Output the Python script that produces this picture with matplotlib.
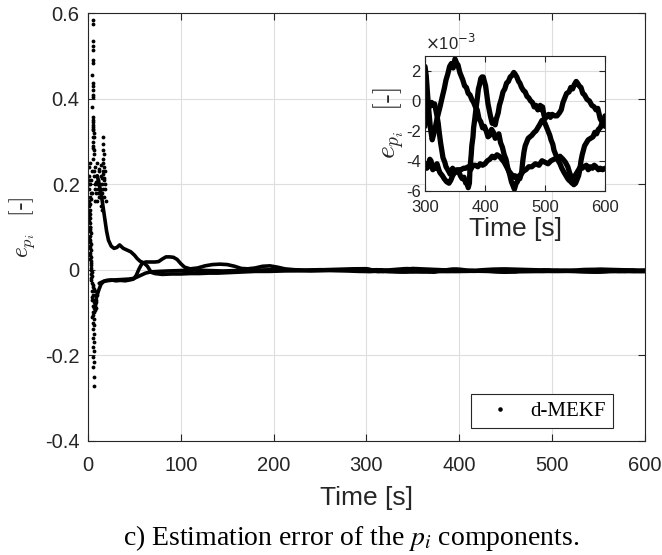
import numpy as np
import matplotlib
matplotlib.use('Agg')
import matplotlib.pyplot as plt

plt.rcParams['axes.unicode_minus'] = False
plt.rcParams['font.family'] = ['Liberation Sans', 'DejaVu Sans']

# ---- main plot: three error components (value in [-]) ----
a_t = [10, 12, 14, 16, 18, 20, 22, 25, 28, 31, 34, 38, 42, 46, 50, 53, 56, 60,
       64, 68, 72, 80, 90, 100, 110, 120, 130, 140, 150, 160, 170, 180, 195, 210,
       225, 240, 255, 270, 285]
a_v = [0.22, 0.2, 0.18, 0.15, 0.12, 0.09, 0.069, 0.055, 0.05, 0.052, 0.058,
       0.05, 0.046, 0.042, 0.034, 0.026, 0.02, 0.016, 0.008, -0.006, -0.009, -0.011,
       -0.01, -0.01, -0.009, -0.009, -0.008, -0.008, -0.007, -0.006, -0.005, -0.004,
       -0.004, -0.003, -0.002, -0.001, 0.0, 0.001, 0.002]

b_t = [10, 12, 14, 17, 20, 25, 30, 35, 40, 45, 49, 52, 55, 58, 62, 67, 72, 76, 80,
       84, 88, 92, 96, 100, 104, 110, 118, 126, 134, 142, 150, 158, 165, 172, 180,
       188, 196, 204, 212, 222, 235, 250, 265, 280, 292]
b_v = [-0.058, -0.045, -0.034, -0.027, -0.025, -0.024, -0.026, -0.025, -0.026,
       -0.024, -0.022, -0.013, 0.002, 0.014, 0.018, 0.018, 0.018, 0.019, 0.025,
       0.03, 0.03, 0.029, 0.024, 0.014, 0.006, 0.002, 0.004, 0.009, 0.012, 0.013,
       0.012, 0.008, 0.003, 0.002, 0.004, 0.008, 0.009, 0.006, 0.002, 0.0, -0.001,
       0.0, -0.001, -0.001, -0.0015]

c_t = [12, 16, 20, 28, 36, 44, 50, 56, 62, 68, 76, 86, 100, 115, 130, 145, 160,
       180, 200, 220, 240, 260, 280, 292]
c_v = [-0.032, -0.028, -0.026, -0.024, -0.023, -0.022, -0.02, -0.014, -0.008,
       -0.005, -0.004, -0.003, -0.002, -0.001, -0.002, -0.003, -0.002, -0.001,
       0.0, -0.002, -0.003, -0.002, -0.003, -0.004]

# transient samples during the first seconds
dots_t = [5.0, 5.2, 5.0, 5.3, 5.1, 5.5, 5.3, 4.8, 5.0, 5.4, 5.2, 5.6, 5.0, 4.6, 5.2,
          5.6, 5.3, 5.8, 5.0, 6.0, 5.5, 6.4, 5.8, 6.2, 6.0, 5.6, 16.5, 16.5, 16.0,
          16.8, 16.3, 16.6, 17.0, 4.9, 5.4, 5.1, 5.7, 16.2, 16.9,
          1.0, 2.0, 1.5, 3.0, 2.5, 1.0, 4.0, 3.5, 2.0, 8.0, 9.0, 10.0, 11.0, 12.0,
          9.5, 13.0, 14.0, 15.0, 16.0, 17.0, 18.0, 12.5, 10.5, 7.0, 6.0, 17.5, 11.5,
          8.5, 14.5, 13.5, 3.0, 2.2, 1.2, 0.8, 4.5, 7.5, 9.0, 11.0, 13.0, 15.5,
          18.5, 10.0, 12.0, 14.0, 16.5, 8.0, 6.5, 19.0, 17.8, 15.0,
          1.5, 2.0, 1.8, 2.5, 2.2, 2.8, 2.5, 3.0, 2.8, 3.2, 3.5, 1.6, 2.1, 2.4, 2.6,
          3.0, 3.1, 3.3, 1.2, 1.9, 2.3, 2.7, 3.6, 1.4, 2.0, 2.9, 1.1, 1.7, 2.6, 1.3,
          2.2, 3.4, 1.5, 2.0, 3.8, 4.2,
          4.5, 5.0, 4.0, 5.5, 4.8, 6.0, 5.2, 6.5, 5.8, 4.6, 6.2, 5.4, 6.8, 5.0, 6.0,
          5.6, 6.6, 5.2, 6.2, 5.0, 6.0, 5.5, 6.0, 6.2, 7.0, 7.5, 4.4, 6.9, 7.8, 8.5,
          9.0, 8.0, 9.5, 7.2, 6.4, 8.2, 7.6, 5.7, 4.9, 6.1, 7.4, 8.8]
dots_v = [0.585, 0.575, 0.535, 0.525, 0.515, 0.49, 0.483, 0.456, 0.437, 0.43, 0.42,
          0.41, 0.404, 0.38, 0.357, 0.35, 0.34, 0.335, 0.327, 0.32, 0.31, 0.31,
          0.29, 0.28, 0.27, 0.26, 0.31, 0.295, 0.28, 0.27, 0.26, 0.25, 0.24,
          0.345, 0.33, 0.3, 0.285,  0.225, 0.215,
          0.24, 0.25, 0.22, 0.21, 0.2, 0.19, 0.23, 0.18, 0.17, 0.24, 0.22, 0.25,
          0.21, 0.23, 0.2, 0.19, 0.22, 0.2, 0.23, 0.21, 0.19, 0.17, 0.18, 0.2,
          0.22, 0.17, 0.235, 0.205, 0.215, 0.245, 0.165, 0.155, 0.2, 0.21, 0.18,
          0.19, 0.18, 0.19, 0.2, 0.18, 0.2, 0.16, 0.17, 0.15, 0.19, 0.16, 0.23,
          0.16, 0.23, 0.14,
          0.15, 0.13, 0.11, 0.1, 0.08, 0.06, 0.05, 0.03, 0.01, 0.0, -0.02, 0.14,
          0.12, 0.09, 0.07, 0.045, 0.02, -0.01, 0.16, 0.1, 0.04, 0.085, -0.025,
          0.125, 0.065, 0.005, 0.135, 0.095, 0.035, 0.115, 0.055, 0.015, 0.075,
          0.025, -0.005, -0.015,
          -0.03, -0.04, -0.05, -0.06, -0.07, -0.075, -0.085, -0.09, -0.1, -0.11,
          -0.115, -0.125, -0.13, -0.14, -0.15, -0.16, -0.17, -0.18, -0.19, -0.205,
          -0.215, -0.228, -0.252, -0.273, -0.08, -0.095, -0.065, -0.07, -0.06,
          -0.075, -0.065, -0.05, -0.06, -0.085, -0.1, -0.09, -0.08, -0.105,
          -0.035, -0.045, -0.07, -0.07]

# ---- inset: same components, 300..600 s, values in 1e-3 [-] ----
ia_t = [300, 302, 304, 306, 309, 312, 316, 320, 325, 329, 332, 335, 338, 341, 344,
        347, 350, 353, 355, 358, 360, 363, 366, 369, 372, 375, 378, 381, 384, 387,
        390, 393, 396, 399, 402, 405, 408, 411, 414, 417, 420, 423, 426, 429, 432,
        435, 438, 441, 444, 447, 449, 452, 454, 457, 460, 464, 468, 473, 478, 484,
        490, 495, 500, 505, 510, 515, 520, 525, 530, 534, 538, 541, 543, 546, 548,
        551, 553, 556, 558, 560, 562, 564, 566, 569, 572, 576, 580, 583, 586, 589,
        592, 595, 597, 600]
ia_v = [2.3, 1.7, 0.6, -0.5, -1.8, -2.6, -2.0, -1.2, -0.4, 0.3, 0.8, 1.4, 1.8, 2.3,
        2.5, 2.2, 2.8, 2.5, 2.4, 1.9, 1.7, 1.4, 1.0, 0.9, 0.5, 0.4, 0.1, -0.1, -0.4,
        -0.6, -1.2, -1.4, -1.8, -1.7, -2.0, -2.4, -2.3, -1.9, -2.1, -2.5, -2.4, -2.2,
        -2.8, -3.1, -3.6, -3.9, -4.5, -4.9, -5.4, -5.7, -5.9, -5.5, -5.4, -5.0,
        -4.9, -4.7, -4.6, -4.4, -4.4, -4.2, -4.3, -4.0, -4.1, -4.2, -4.0, -3.9,
        -3.8, -3.7, -3.9, -4.1, -4.4, -4.8, -5.0, -5.4, -5.6, -5.5, -5.3, -5.0,
        -4.6, -4.0, -3.6, -3.3, -3.0, -2.8, -2.6, -2.5, -2.4, -2.1, -2.2, -1.9,
        -1.8, -1.5, -1.4, -1.0]

ib_t = [300, 302, 304, 306, 308, 311, 313, 316, 318, 320, 322, 324, 326, 328, 330,
        333, 335, 338, 342, 346, 350, 353, 356, 359, 362, 365, 368, 370, 372, 374,
        375, 377, 378, 380, 381, 383, 385, 387, 389, 391, 393, 395, 397, 399, 401,
        403, 405, 407, 409, 412, 414, 417, 419, 422, 424, 427, 430, 433, 436, 439,
        442, 445, 448, 450, 453, 456, 458, 461, 464, 467, 470, 473, 476, 479, 482,
        485, 488, 490, 492, 494, 496, 498, 500, 503, 506, 509, 512, 516, 520, 524,
        527, 530, 533, 536, 540, 543, 546, 549, 552, 554, 557, 560, 563, 566, 570,
        574, 578, 582, 585, 588, 592, 595, 597, 600]
ib_v = [-1.7, -1.2, -0.8, -0.5, -0.3, -0.1, -0.3, -0.2, -0.6, -1.0, -1.5, -2.2,
        -2.8, -3.3, -3.8, -4.1, -4.4, -4.6, -4.9, -4.5, -4.8, -4.6, -4.7, -5.0,
        -5.2, -5.1, -5.5, -5.4, -5.8, -5.5, -4.5, -3.6, -3.0, -2.4, -1.8, -1.2,
        -0.5, 0.1, 0.8, 1.1, 1.5, 1.6, 1.6, 1.3, 1.0, 0.4, -0.2, -0.6, -1.0, -1.5,
        -1.3, -1.6, -1.2, -0.8, -0.3, 0.1, 0.6, 0.8, 1.2, 1.3, 1.6, 1.7, 1.9, 1.8,
        1.6, 1.3, 1.2, 0.9, 0.7, 0.6, 0.3, 0.2, 0.0, -0.1, -0.4, -0.3, -0.6, -0.5,
        -0.3, -0.6, -0.4, -0.9, -1.2, -1.0, -0.9, -1.1, -0.9, -1.0, -1.0, -0.8,
        -0.6, -0.1, 0.2, 0.5, 0.6, 0.9, 0.8, 1.1, 1.3, 1.2, 1.0, 0.9, 0.5, 0.4,
        0.1, 0.0, -0.3, -0.4, -0.6, -0.5, -1.2, -1.4, -1.6, -1.7]

ic_t = [300, 303, 305, 308, 310, 313, 315, 318, 320, 323, 325, 329, 332, 336, 340,
        343, 346, 349, 352, 356, 360, 364, 368, 372, 376, 380, 384, 388, 392, 396,
        400, 404, 408, 412, 416, 420, 424, 428, 432, 436, 440, 444, 447, 450, 453,
        456, 458, 461, 463, 465, 467, 470, 472, 475, 478, 482, 485, 488, 491, 495,
        498, 500, 503, 505, 508, 510, 513, 515, 518, 522, 525, 528, 532, 535, 538,
        540, 543, 545, 548, 550, 553, 556, 559, 562, 565, 569, 572, 575, 579, 582,
        585, 589, 592, 596, 600]
ic_v = [-4.2, -4.5, -4.4, -3.9, -4.0, -4.6, -4.3, -4.5, -4.2, -4.6, -4.8, -5.0,
        -5.2, -5.4, -5.5, -5.3, -5.0, -4.8, -4.7, -4.6, -4.6, -4.5, -4.5, -4.4,
        -4.6, -4.3, -4.3, -4.4, -4.2, -4.3, -4.2, -4.0, -3.9, -3.7, -3.8, -3.6,
        -3.7, -3.9, -4.1, -4.4, -4.7, -4.9, -5.1, -5.0, -5.2, -5.1, -5.2, -4.8,
        -4.0, -3.4, -3.0, -2.7, -2.5, -2.4, -2.3, -2.1, -2.0, -1.8, -1.6, -1.3,
        -1.4, -1.5, -1.8, -2.0, -2.3, -2.6, -2.9, -3.3, -3.6, -4.0, -4.2, -4.5,
        -4.8, -5.0, -5.2, -5.3, -5.4, -5.5, -5.3, -5.0, -4.8, -4.6, -4.4, -4.5,
        -4.4, -4.3, -4.6, -4.4, -4.5, -4.3, -4.4, -4.6, -4.5, -4.6, -4.5]

main_xticks = [0, 100, 200, 300, 400, 500, 600]
main_yticks = [-0.4, -0.2, 0, 0.2, 0.4, 0.6]
main_ylabels = ['-0.4', '-0.2', '0', '0.2', '0.4', '0.6']
inset_xticks = [300, 400, 500, 600]
inset_yticks = [-6, -4, -2, 0, 2]

ink = '#262626'
grid_c = '#dedede'

fig = plt.figure(figsize=(6.62, 5.55), dpi=100)

ax = fig.add_axes([0.133, 0.2063, 0.841, 0.7694])
for tt, vv, it, iv in [(a_t, a_v, ia_t, ia_v), (b_t, b_v, ib_t, ib_v),
                       (c_t, c_v, ic_t, ic_v)]:
    x = list(tt) + list(it)
    y = list(vv) + [v * 1e-3 for v in iv]
    ax.plot(x, y, color='k', lw=2.6, solid_joinstyle='round', solid_capstyle='round')
ax.plot(dots_t, dots_v, '.', color='k', ms=5.5, mew=0)
ax.plot([], [], '.', color='k', ms=4.5, label='d-MEKF')

ax.set_xlim(0, 600)
ax.set_ylim(-0.4, 0.6)
ax.set_xticks(main_xticks)
ax.set_xticklabels([str(v) for v in main_xticks])
ax.set_yticks(main_yticks)
ax.set_yticklabels(main_ylabels)
ax.grid(True, color=grid_c, lw=0.8)
ax.set_axisbelow(True)
ax.tick_params(direction='in', length=5, width=0.8, colors=ink, labelsize=14.5,
               top=True, right=True)
ax.tick_params(axis='x', pad=11)
ax.tick_params(axis='y', pad=6)
for s in ax.spines.values():
    s.set_color(ink)
    s.set_linewidth(0.8)
ax.set_xlabel('Time [s]', fontsize=19, color=ink, labelpad=8)
ax.set_ylabel('$e_{p_i}$  [-]', fontsize=17, family='cmr10', math_fontfamily='cm',
              color=ink, labelpad=6)

leg = ax.legend(loc='lower right', bbox_to_anchor=(0.943, 0.029), borderaxespad=0,
                prop={'family': 'Liberation Serif', 'size': 15}, handlelength=2.1,
                handletextpad=0.4, borderpad=0.35, fancybox=False, framealpha=1,
                edgecolor=ink, markerscale=1.0)
leg.get_frame().set_linewidth(0.8)

# inset
ins = fig.add_axes([0.642, 0.6564, 0.2719, 0.2427])
for it, iv in [(ia_t, ia_v), (ib_t, ib_v), (ic_t, ic_v)]:
    ins.plot(it, iv, color='k', lw=3.8, solid_joinstyle='round', solid_capstyle='round')
ins.set_xlim(300, 600)
ins.set_ylim(-6, 3)
ins.set_xticks(inset_xticks)
ins.set_xticklabels([str(v) for v in inset_xticks])
ins.set_yticks(inset_yticks)
ins.set_yticklabels([str(v) for v in inset_yticks])
ins.grid(True, color=grid_c, lw=0.8)
ins.set_axisbelow(True)
ins.tick_params(direction='in', length=4, width=0.8, colors=ink, labelsize=12,
                top=True, right=True)
ins.tick_params(axis='x', pad=7)
ins.tick_params(axis='y', pad=3)
for s in ins.spines.values():
    s.set_color(ink)
    s.set_linewidth(0.8)
ins.set_xlabel('Time [s]', fontsize=19, color=ink, labelpad=1)
ins.set_ylabel('$e_{p_i}$  [-]', fontsize=20, family='cmr10', math_fontfamily='cm',
               color=ink, labelpad=-1)
ins.text(0.0, 1.02, r'$\times$10$^{-3}$', transform=ins.transAxes, fontsize=12,
         color=ink, ha='left', va='bottom', math_fontfamily='dejavusans')

fig.text(0.53, 1 - 545 / 555, 'c) Estimation error of the $p_i$ components.',
         family='Liberation Serif', math_fontfamily='stix', fontsize=20,
         ha='center', va='baseline', color='k')

fig.savefig('out.png', dpi=100)
